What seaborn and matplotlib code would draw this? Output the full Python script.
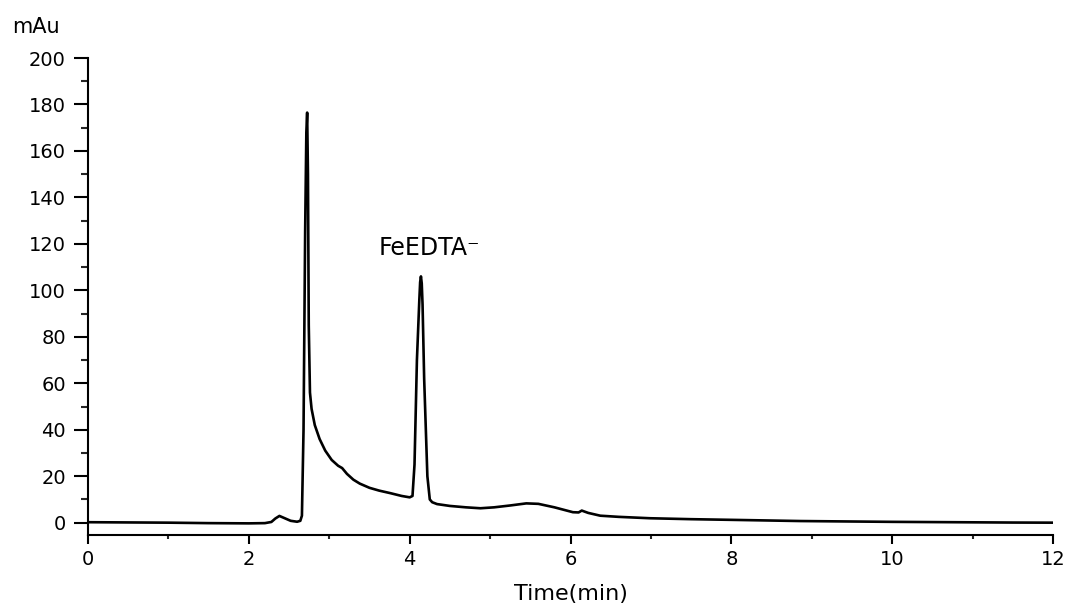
import matplotlib
matplotlib.use("Agg")
import matplotlib.pyplot as plt
from matplotlib.ticker import MultipleLocator
import seaborn as sns
import pandas as pd

# chromatogram points (time in min, signal in mAu)
time_min = [0.0, 0.5, 1.0, 1.5, 2.0, 2.2, 2.28, 2.33, 2.38, 2.44, 2.52, 2.60, 2.64,
            2.66, 2.68, 2.70, 2.715, 2.725, 2.735, 2.745, 2.76, 2.78, 2.82, 2.88,
            2.95, 3.03, 3.11, 3.16, 3.22, 3.30, 3.38, 3.50, 3.62, 3.76, 3.90, 4.00,
            4.035, 4.06, 4.09, 4.12, 4.13, 4.14, 4.15, 4.16, 4.18, 4.22, 4.25, 4.28,
            4.34, 4.50, 4.70, 4.88, 5.05, 5.25, 5.45, 5.60, 5.80, 6.03, 6.10, 6.14,
            6.22, 6.37, 6.60, 6.99, 7.50, 8.02, 8.86, 9.5, 10.0, 10.5, 11.0, 11.5, 12.0]
signal_mau = [0.2, 0.1, 0.0, -0.2, -0.3, -0.2, 0.3, 1.8, 2.9, 2.0, 0.8, 0.4, 0.8,
              3.0, 40.0, 125.0, 168.0, 176.5, 150.0, 85.0, 56.0, 49.0, 42.0, 36.0,
              31.0, 27.0, 24.5, 23.5, 21.0, 18.5, 16.8, 15.0, 13.8, 12.7, 11.5, 10.9,
              11.5, 25.0, 70.0, 96.0, 103.5, 106.0, 103.0, 94.0, 62.0, 20.0, 10.0, 8.8,
              8.0, 7.2, 6.6, 6.2, 6.6, 7.4, 8.3, 8.1, 6.6, 4.5, 4.4, 5.2,
              4.2, 3.0, 2.5, 1.9, 1.5, 1.2, 0.7, 0.5, 0.35, 0.25, 0.15, 0.05, 0.0]
peak_label = "FeEDTA\u207b"
peak_label_pos = (3.62, 115)

df = pd.DataFrame({"time": time_min, "mAu": signal_mau})

sns.set_theme(style="ticks")
plt.rcParams["font.family"] = ["DejaVu Sans"]
plt.rcParams["text.color"] = "black"

fig = plt.figure(figsize=(10.72, 6.08), dpi=100)
ax = fig.add_axes([0.0821, 0.1201, 0.9002, 0.7845])

sns.lineplot(data=df, x="time", y="mAu", ax=ax, color="black", linewidth=1.9,
             estimator=None, sort=False)

ax.set_xlim(0, 12)
ax.set_ylim(-5.3, 200)
ax.xaxis.set_major_locator(MultipleLocator(2))
ax.xaxis.set_minor_locator(MultipleLocator(1))
ax.yaxis.set_major_locator(MultipleLocator(20))
ax.yaxis.set_minor_locator(MultipleLocator(10))

sns.despine(ax=ax)
for side in ["left", "bottom"]:
    ax.spines[side].set_linewidth(1.5)
    ax.spines[side].set_color("black")

ax.tick_params(axis="y", which="major", length=10, width=1.5, labelsize=14,
               colors="black", pad=6)
ax.tick_params(axis="y", which="minor", length=5, width=1.5)
ax.tick_params(axis="x", which="major", length=6.5, width=1.5, labelsize=14,
               colors="black", pad=4)
ax.tick_params(axis="x", which="minor", length=3, width=1.5)

ax.set_xlabel("Time(min)", fontsize=16, color="black", labelpad=11)
ax.set_ylabel("")
fig.text(0.011, 0.955, "mAu", fontsize=15, ha="left", va="center")

ax.text(peak_label_pos[0], peak_label_pos[1], peak_label, fontsize=17,
        ha="left", va="baseline", color="black")

fig.savefig("out.png", dpi=100)
